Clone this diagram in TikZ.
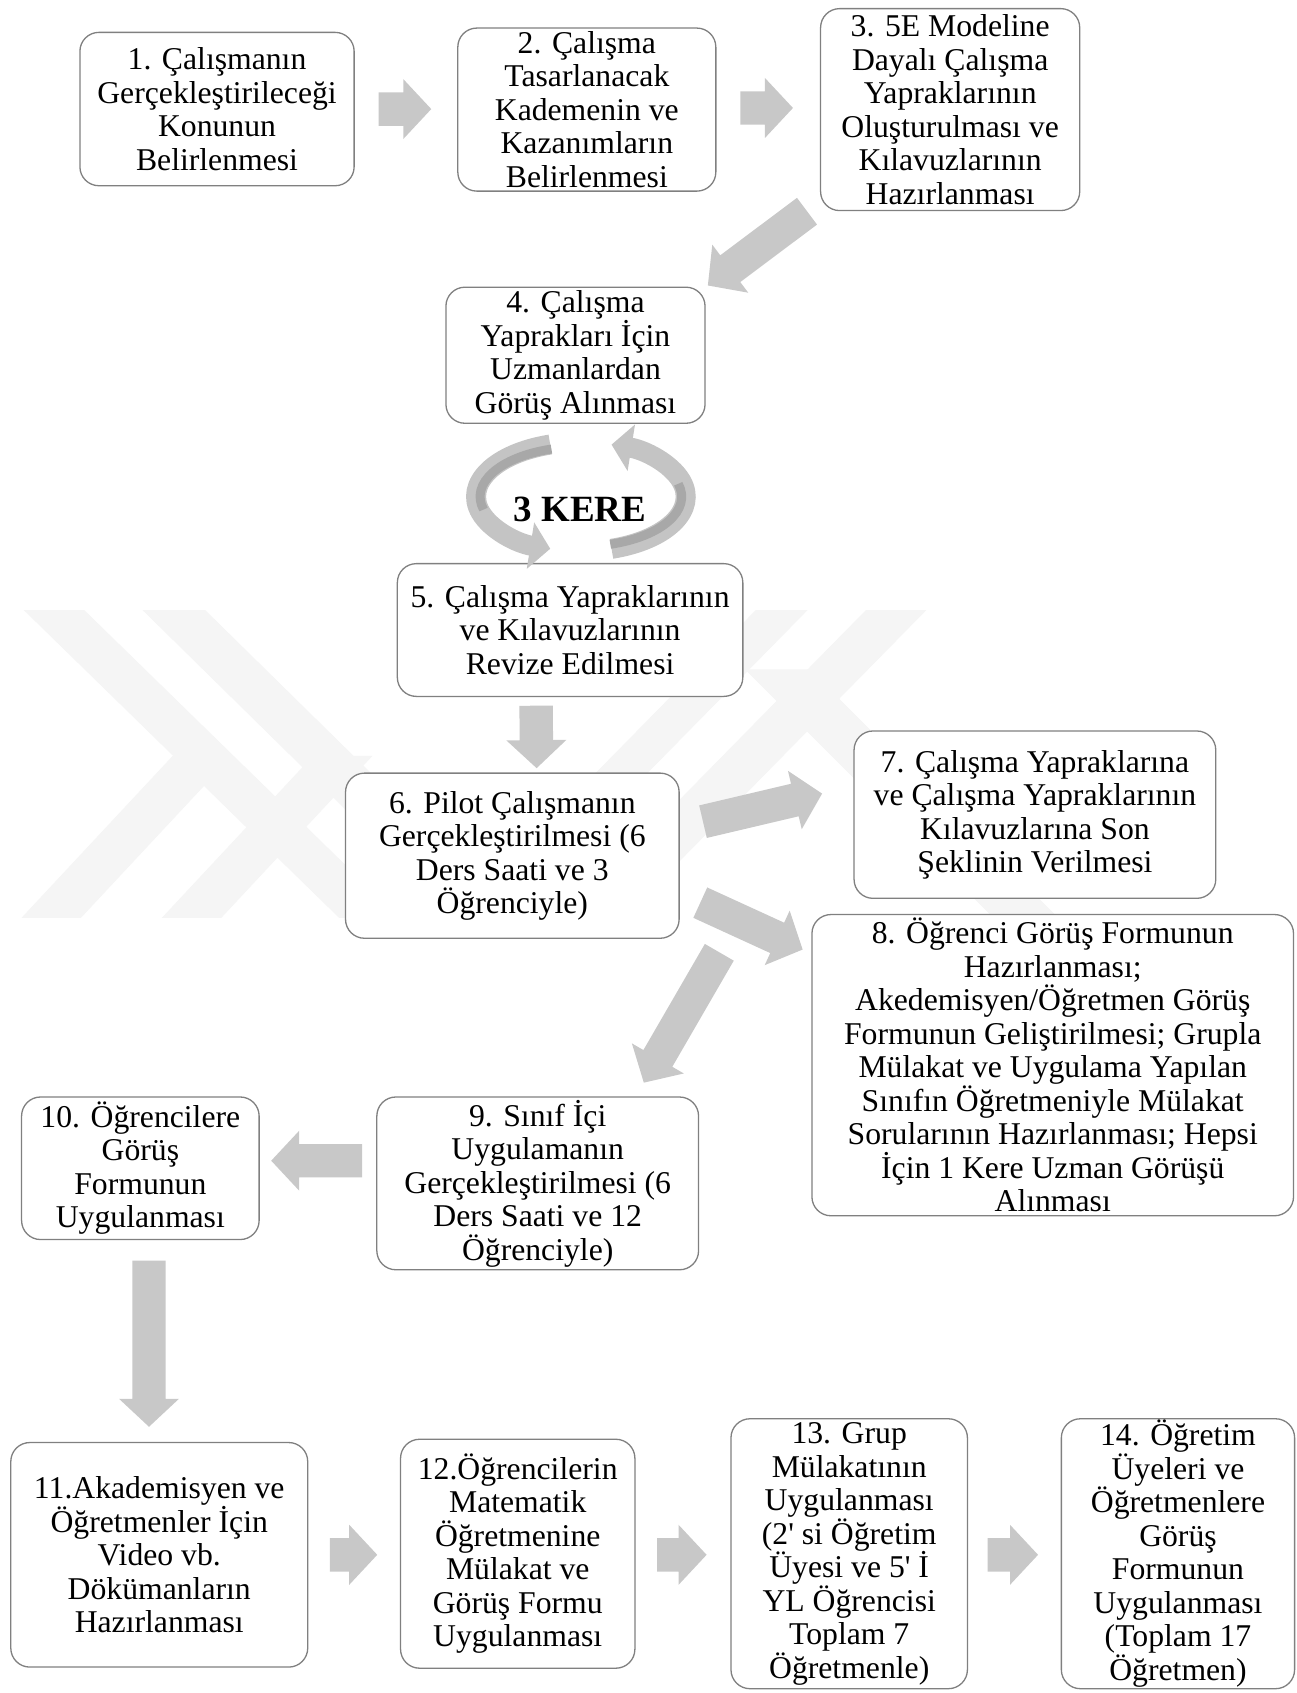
\documentclass[tikz,border=0pt]{standalone}
\usepackage{fontspec}
\setmainfont{Liberation Serif}
\usepackage{tikz}
\usetikzlibrary{calc}
\usetikzlibrary{arrows.meta}
\definecolor{kenar}{RGB}{128,128,128}
\definecolor{okrenk}{RGB}{200,200,200}
\definecolor{halkarenk}{RGB}{196,196,196}
\definecolor{halkakoyu}{RGB}{168,168,168}
\definecolor{filigran}{RGB}{245,245,245}
\newcommand{\yazi}{\fontsize{31.7pt}{33.5pt}\selectfont}
\newcommand{\okciz}[2]{%
    \coordinate (okA) at #1;
    \coordinate (okB) at #2;
    \coordinate (okH) at ($(okB)!28pt!(okA)$);
    \fill[okrenk] ($(okA)!16.7pt!90:(okB)$) -- ($(okH)!16.7pt!90:(okB)$)
        -- ($(okH)!30pt!90:(okB)$) -- (okB) -- ($(okH)!30pt!-90:(okB)$)
        -- ($(okH)!16.7pt!-90:(okB)$) -- ($(okA)!16.7pt!-90:(okB)$) -- cycle;}
\tikzset{kutu/.style={draw=kenar, line width=1.3pt, rounded corners=19pt, fill=white,
    align=center, inner sep=0pt, font=\yazi}}

\begin{document}
\begin{tikzpicture}[x=1.08pt,y=-1.08pt]
                \useasboundingbox (0,0) rectangle (1201,1568);
                \fill[white] (0,0) rectangle (1201,1568);
                \foreach \band in {
                    {(22,565)--(78,565)--(370,850)--(314,850)},
                    {(132,565)--(190,565)--(480,850)--(422,850)},
                    {(700,565)--(748,565)--(468,850)--(420,850)},
                    {(802,565)--(858,565)--(578,850)--(522,850)},
                    {(690,620)--(750,620)--(980,850)--(920,850)},
                    {(20,850)--(75,850)--(215,700)--(160,700)},
                    {(150,850)--(205,850)--(345,700)--(290,700)}
                    }
                    \fill[filigran] \band -- cycle;
                \node[kutu, minimum width=274.3pt, minimum height=153.4pt] (s1) at (201,101)
                    {1. Çalışmanın\\Gerçekleştirileceği\\Konunun\\Belirlenmesi};
                \node[kutu, minimum width=258.1pt, minimum height=163.1pt] (s2) at (543.5,101.5)
                    {2. Çalışma\\Tasarlanacak\\Kademenin ve\\Kazanımların\\Belirlenmesi};
                \node[kutu, minimum width=259.2pt, minimum height=202pt] (s3) at (880,101.5)
                    {3. 5E Modeline\\Dayalı Çalışma\\Yapraklarının\\Oluşturulması ve\\Kılavuzlarının\\Hazırlanması};
                \node[kutu, minimum width=259.2pt, minimum height=136.1pt] (s4) at (533,329)
                    {4. Çalışma\\Yaprakları İçin\\Uzmanlardan\\Görüş Alınması};
                \node[kutu, minimum width=345.6pt, minimum height=132.8pt] (s5) at (528,583.5)
                    {5. Çalışma Yapraklarının\\ve Kılavuzlarının\\Revize Edilmesi};
                \node[kutu, minimum width=333.7pt, minimum height=165.2pt] (s6) at (474.5,792.5)
                    {6. Pilot Çalışmanın\\Gerçekleştirilmesi (6\\Ders Saati ve 3\\Öğrenciyle)};
                \node[kutu, minimum width=361.8pt, minimum height=167.4pt] (s7) at (958.5,754.5)
                    {7. Çalışma Yapraklarına\\ve Çalışma Yapraklarının\\Kılavuzlarına Son\\Şeklinin Verilmesi};
                \node[kutu, minimum width=481.7pt, minimum height=301.3pt] (s8) at (975,986.5)
                    {8. Öğrenci Görüş Formunun\\Hazırlanması;\\Akedemisyen/Öğretmen Görüş\\Formunun Geliştirilmesi; Grupla\\Mülakat ve Uygulama Yapılan\\Sınıfın Öğretmeniyle Mülakat\\Sorularının Hazırlanması; Hepsi\\İçin 1 Kere Uzman Görüşü\\Alınması};
                \node[kutu, minimum width=321.8pt, minimum height=172.8pt] (s9) at (498,1096)
                    {9. Sınıf İçi\\Uygulamanın\\Gerçekleştirilmesi (6\\Ders Saati ve 12\\Öğrenciyle)};
                \node[kutu, minimum width=237.6pt, minimum height=142.6pt] (s10) at (130,1082)
                    {10. Öğrencilere\\Görüş\\Formunun\\Uygulanması};
                \node[kutu, minimum width=297pt, minimum height=224.6pt] (s11) at (147.5,1440)
                    {11.Akademisyen ve\\Öğretmenler İçin\\Video vb.\\Dökümanların\\Hazırlanması};
                \node[kutu, minimum width=234.4pt, minimum height=229pt] (s12) at (479.5,1439)
                    {12.Öğrencilerin\\Matematik\\Öğretmenine\\Mülakat ve\\Görüş Formu\\Uygulanması};
                \node[kutu, minimum width=236.5pt, minimum height=270pt] (s13) at (786.5,1439)
                    {13. Grup\\Mülakatının\\Uygulanması\\(2\textquotesingle{} si Öğretim\\Üyesi ve 5\textquotesingle{} İ\\YL Öğrencisi\\Toplam 7\\Öğretmenle)};
                \node[kutu, minimum width=233.3pt, minimum height=270pt] (s14) at (1091,1439)
                    {14. Öğretim\\Üyeleri ve\\Öğretmenlere\\Görüş\\Formunun\\Uygulanması\\(Toplam 17\\Öğretmen)};
                \okciz{($(s1.east)+(22,0)$)}{($(s2.west)+(-24,-0.5)$)}
                \okciz{($(s2.east)+(22,-1.5)$)}{($(s3.west)+(-25,-1.5)$)}
                \okciz{($(s3.south west)+(-12,0)$)}{($(s4.north east)+(2,-1)$)}
                \okciz{($(s5.south)+(-31.5,8)$)}{($(s6.north)+(22.5,-4)$)}
                \okciz{($(s6.east)+(21.5,-31.5)$)}{($(s7.west)+(-29,-19.5)$)}
                \okciz{($(s6.east)+(19,43.5)$)}{($(s8.north west)+(-8,33)$)}
                \okciz{($(s6.south east)+(36.6,12.4)$)}{($(s9.north east)+(-51.3,-12.7)$)}
                \okciz{($(s9.west)+(-13,-21)$)}{($(s10.east)+(10.6,-7)$)}
                \okciz{($(s10.south)+(8,19)$)}{($(s11.north)+(-9.5,-14)$)}
                \okciz{($(s11.east)+(20,0)$)}{($(s12.west)+(-21,1)$)}
                \okciz{($(s12.east)+(20,1)$)}{($(s13.west)+(-22,1)$)}
                \okciz{($(s13.east)+(18,1)$)}{($(s14.west)+(-21,1)$)}
                \coordinate (halka) at (538,460);
                \draw[halkarenk, line width=20pt, -{Triangle[length=20pt,width=46pt]}]
                    ($(halka)+(-28.4,-48.3)$) arc[start angle=107, end angle=253, x radius=104.8pt, y radius=54.5pt];
                \draw[halkarenk, line width=20pt, -{Triangle[length=20pt,width=46pt]}]
                    ($(halka)+(28.4,48.3)$) arc[start angle=-73, end angle=73, x radius=104.8pt, y radius=54.5pt];
                \draw[halkakoyu, line width=9pt]
                    ($(halka)+(-27.3,-44.1)$) arc[start angle=107, end angle=195, x radius=100.8pt, y radius=49.8pt];
                \draw[halkakoyu, line width=9pt]
                    ($(halka)+(27.3,44.1)$) arc[start angle=-73, end angle=15, x radius=100.8pt, y radius=49.8pt];
                \node[font=\fontsize{37pt}{40pt}\selectfont\bfseries] (tekrar) at ($(halka)+(-1,12)$) {3 KERE};
            \end{tikzpicture}
\end{document}
